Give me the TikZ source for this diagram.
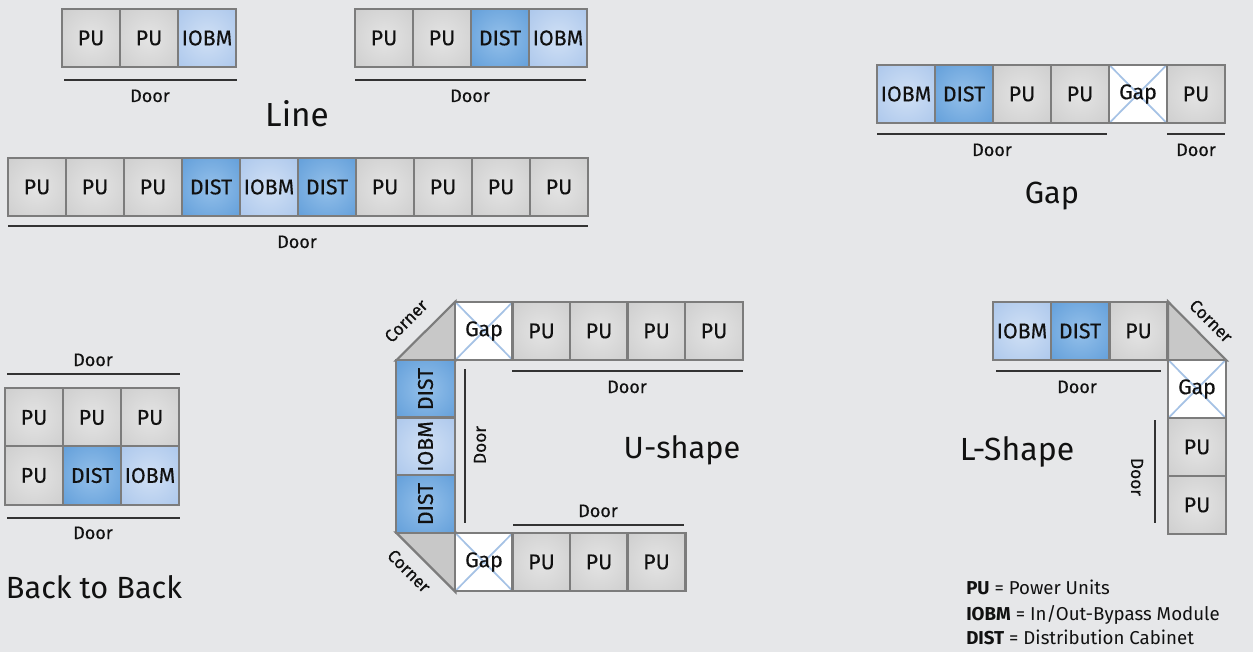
\documentclass[tikz,border=0pt]{standalone}
\usepackage{fontspec}
\setmainfont{Fira Sans}
\newfontfamily\medfont{Fira Sans}[FakeBold=0.35]
\definecolor{bg}{HTML}{E6E7E9}
\definecolor{cellborder}{HTML}{7C7C7C}
\definecolor{puin}{HTML}{E4E4E4}
\definecolor{puout}{HTML}{CACACA}
\definecolor{iobin}{HTML}{D0E0F5}
\definecolor{iobout}{HTML}{A6C3EA}
\definecolor{distin}{HTML}{94C0EA}
\definecolor{distout}{HTML}{5A99D7}
\definecolor{gapx}{HTML}{A5C2E5}
\definecolor{cornerfill}{HTML}{C8C8C8}
\definecolor{doorline}{HTML}{333333}
\definecolor{txt}{HTML}{111111}
\pgfdeclareradialshading{pushade}{\pgfpoint{0bp}{0bp}}{color(0bp)=(puin); color(42bp)=(puout); color(50bp)=(puout)}
\pgfdeclareradialshading{iobshade}{\pgfpoint{0bp}{0bp}}{color(0bp)=(iobin); color(42bp)=(iobout); color(50bp)=(iobout)}
\pgfdeclareradialshading{distshade}{\pgfpoint{0bp}{0bp}}{color(0bp)=(distin); color(42bp)=(distout); color(50bp)=(distout)}
\tikzset{
  cell/.style={draw=cellborder, line width=1.6pt, minimum width=43.5pt, minimum height=44pt,
    inner sep=0pt, text=txt, font=\medfont\fontsize{16}{19}\selectfont},
  pu/.style={cell, shading=pushade},
  iobm/.style={cell, shading=iobshade},
  dist/.style={cell, shading=distshade},
  gapbox/.style={cell, fill=white, path picture={
    \draw[gapx, line width=1.3pt] (path picture bounding box.north west) -- (path picture bounding box.south east)
      (path picture bounding box.south west) -- (path picture bounding box.north east);}},
  door/.style={draw=doorline, line width=1pt},
  doortxt/.style={font=\medfont\fontsize{13.5}{16}\selectfont, text=txt, anchor=base, inner sep=0pt},
  rottxt/.style={font=\medfont\fontsize{13}{16}\selectfont, text=txt, inner sep=0pt},
  title/.style={text=txt, anchor=base, inner sep=0pt},
  corner/.style={fill=cornerfill, draw=cellborder, line width=1.6pt, line join=miter},
  legend/.style={font=\fontsize{14}{17}\selectfont, text=txt, anchor=base west, inner sep=0pt}
}
\begin{document}
\begin{tikzpicture}[x=0.75pt, y=-0.75pt]
\fill[bg] (0,0) rectangle (1253,652);
\useasboundingbox (0,0) rectangle (1253,652);

% ---------- Line: top-left ----------
\node[pu]   (a1) at (91,38)  {PU};
\node[pu]   (a2) at (149,38) {PU};
\node[iobm] (a3) at (207,38) {IOBM};
\coordinate (adl) at (64,80); \coordinate (adr) at (237,80);
\draw[door] (adl) -- (adr);
\node[doortxt] (adt) at (150,102) {Door};

% ---------- Line: top-middle ----------
\node[pu]   (b1) at (384,38) {PU};
\node[pu]   (b2) at (442,38) {PU};
\node[dist] (b3) at (500,38) {DIST};
\node[iobm] (b4) at (558,38) {IOBM};
\coordinate (bdl) at (355,80); \coordinate (bdr) at (586,80);
\draw[door] (bdl) -- (bdr);
\node[doortxt] (bdt) at (470,102) {Door};

\node[title, font=\fontsize{25}{30}\selectfont] (tline) at (297,127) {Line};

% ---------- Line: long row ----------
\node[pu]   (c1)  at (37,187)  {PU};
\node[pu]   (c2)  at (95,187)  {PU};
\node[pu]   (c3)  at (153,187) {PU};
\node[dist] (c4)  at (211,187) {DIST};
\node[iobm] (c5)  at (269,187) {IOBM};
\node[dist] (c6)  at (327,187) {DIST};
\node[pu]   (c7)  at (385,187) {PU};
\node[pu]   (c8)  at (443,187) {PU};
\node[pu]   (c9)  at (501,187) {PU};
\node[pu]   (c10) at (559,187) {PU};
\coordinate (cdl) at (8,226); \coordinate (cdr) at (588,226);
\draw[door] (cdl) -- (cdr);
\node[doortxt] (cdt) at (297,248) {Door};

% ---------- Gap ----------
\node[iobm]   (d1) at (906,94)  {IOBM};
\node[dist]   (d2) at (964,94)  {DIST};
\node[pu]     (d3) at (1022,94) {PU};
\node[pu]     (d4) at (1080,94) {PU};
\node[gapbox] (d5) at (1138,94) {Gap};
\node[pu]     (d6) at (1196,94) {PU};
\coordinate (ddl1) at (877,134); \coordinate (ddr1) at (1107,134);
\coordinate (ddl2) at (1167,134); \coordinate (ddr2) at (1225,134);
\draw[door] (ddl1) -- (ddr1);
\draw[door] (ddl2) -- (ddr2);
\node[doortxt] (ddt1) at (992,156)  {Door};
\node[doortxt] (ddt2) at (1196,156) {Door};
\node[title, font=\fontsize{23}{28}\selectfont] (tgap) at (1052,204) {Gap};

% ---------- Back to Back ----------
\node[doortxt] (edt1) at (93,366) {Door};
\coordinate (edl1) at (7,374); \coordinate (edr1) at (180,374);
\draw[door] (edl1) -- (edr1);
\node[pu]   (e1) at (34,417.5)  {PU};
\node[pu]   (e2) at (92,417.5)  {PU};
\node[pu]   (e3) at (150,417.5) {PU};
\node[pu]   (e4) at (34,475.5)  {PU};
\node[dist] (e5) at (92,475.5)  {DIST};
\node[iobm] (e6) at (150,475.5) {IOBM};
\coordinate (edl2) at (7,518); \coordinate (edr2) at (180,518);
\draw[door] (edl2) -- (edr2);
\node[doortxt] (edt2) at (93,539) {Door};
\node[title, font=\fontsize{23}{28}\selectfont] (tback) at (94,598) {Back to Back};

% ---------- U-shape ----------
\draw[corner] (396,360.5) -- (455.5,301.5) -- (455.5,360.5) -- cycle;
\draw[corner] (396,532.5) -- (455.5,532.5) -- (455.5,592) -- cycle;
\node[gapbox] (f1) at (484,331)   {Gap};
\node[pu]     (f2) at (541.5,331) {PU};
\node[pu]     (f3) at (599,331)   {PU};
\node[pu]     (f4) at (656.5,331) {PU};
\node[pu]     (f5) at (714,331)   {PU};
\node[dist, rotate=90] (g1) at (425.5,389)   {DIST};
\node[iobm, rotate=90] (g2) at (425.5,446.5) {IOBM};
\node[dist, rotate=90] (g3) at (425.5,504)   {DIST};
\node[gapbox] (h1) at (484,562)   {Gap};
\node[pu]     (h2) at (541.5,562) {PU};
\node[pu]     (h3) at (599,562)   {PU};
\node[pu]     (h4) at (656.5,562) {PU};
\coordinate (udl1) at (512,371); \coordinate (udr1) at (743,371);
\draw[door] (udl1) -- (udr1);
\node[doortxt] (udt1) at (627,393) {Door};
\coordinate (udt) at (465,369); \coordinate (udb) at (465,523);
\draw[door] (udt) -- (udb);
\node[rottxt, rotate=90] (udt2) at (480,445) {Door};
\coordinate (udl3) at (513,525); \coordinate (udr3) at (684,525);
\draw[door] (udl3) -- (udr3);
\node[doortxt] (udt3) at (598,517) {Door};
\node[rottxt, rotate=45]  (uc1) at (406,321) {Corner};
\node[rottxt, rotate=-45] (uc2) at (409,571) {Corner};
\node[title, font=\fontsize{23}{28}\selectfont] (tu) at (682,458) {U-shape};

% ---------- L-Shape ----------
\draw[corner] (1168,301.5) -- (1226.5,360.5) -- (1168,360.5) -- cycle;
\node[iobm] (k1) at (1022,331) {IOBM};
\node[dist] (k2) at (1080,331) {DIST};
\node[pu]   (k3) at (1138.5,331) {PU};
\node[gapbox] (m1) at (1197,389) {Gap};
\node[pu]     (m2) at (1197,447) {PU};
\node[pu]     (m3) at (1197,505) {PU};
\coordinate (ldl) at (996,371); \coordinate (ldr) at (1161,371);
\draw[door] (ldl) -- (ldr);
\node[doortxt] (ldt1) at (1077,393) {Door};
\coordinate (lvt) at (1155,420); \coordinate (lvb) at (1155,523);
\draw[door] (lvt) -- (lvb);
\node[rottxt, rotate=-90] (ldt2) at (1137,477) {Door};
\node[rottxt, rotate=-45] (lc1) at (1211,321) {Corner};
\node[title, font=\fontsize{24}{28}\selectfont] (tl) at (1017,460) {L-Shape};

% ---------- Legend ----------
\node[legend] (leg1) at (966,594) {\textbf{PU} = Power Units};
\node[legend] (leg2) at (966,620) {\textbf{IOBM} = In/Out-Bypass Module};
\node[legend] (leg3) at (966,644) {\textbf{DIST} = Distribution Cabinet};
\end{tikzpicture}
\end{document}
